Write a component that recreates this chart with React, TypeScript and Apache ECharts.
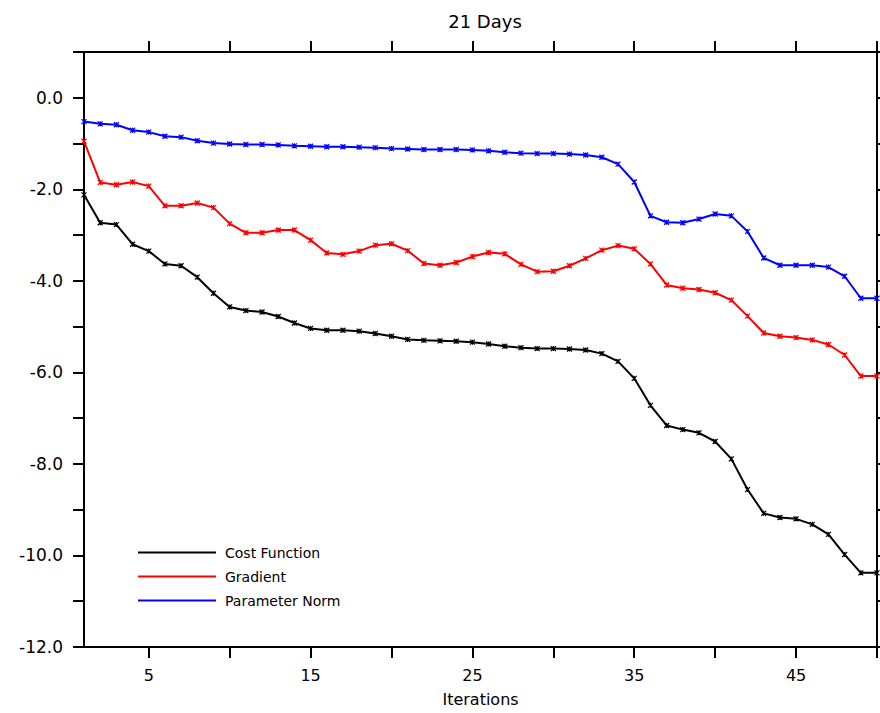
import React, { useEffect, useRef } from "react";
import * as echarts from "echarts";

const iterations = [
  1, 2, 3, 4, 5, 6, 7, 8, 9, 10, 11, 12, 13, 14, 15, 16, 17, 18, 19, 20, 21, 22, 23, 24, 25,
  26, 27, 28, 29, 30, 31, 32, 33, 34, 35, 36, 37, 38, 39, 40, 41, 42, 43, 44, 45, 46, 47, 48, 49, 50,
];

const costFunction = [
  -2.12, -2.73, -2.77, -3.2, -3.35, -3.63, -3.67, -3.92, -4.27, -4.57,
  -4.65, -4.68, -4.78, -4.92, -5.04, -5.08, -5.08, -5.1, -5.15, -5.21,
  -5.28, -5.3, -5.31, -5.32, -5.34, -5.38, -5.43, -5.46, -5.48, -5.48,
  -5.49, -5.51, -5.59, -5.76, -6.13, -6.72, -7.16, -7.25, -7.32, -7.51,
  -7.89, -8.56, -9.08, -9.17, -9.2, -9.32, -9.54, -9.98, -10.38, -10.38,
];

const gradient = [
  -0.95, -1.85, -1.9, -1.84, -1.93, -2.36, -2.36, -2.3, -2.4, -2.75,
  -2.95, -2.95, -2.89, -2.89, -3.11, -3.39, -3.42, -3.35, -3.22, -3.19,
  -3.34, -3.62, -3.66, -3.6, -3.47, -3.38, -3.41, -3.64, -3.8, -3.79,
  -3.67, -3.51, -3.33, -3.23, -3.3, -3.63, -4.09, -4.16, -4.19, -4.26,
  -4.42, -4.77, -5.14, -5.21, -5.24, -5.29, -5.39, -5.62, -6.08, -6.08,
];

const parameterNorm = [
  -0.52, -0.57, -0.59, -0.71, -0.75, -0.84, -0.86, -0.94, -0.99, -1.01,
  -1.02, -1.02, -1.03, -1.05, -1.06, -1.07, -1.07, -1.08, -1.09, -1.11,
  -1.12, -1.13, -1.13, -1.13, -1.14, -1.16, -1.19, -1.21, -1.22, -1.22,
  -1.23, -1.25, -1.3, -1.45, -1.84, -2.58, -2.72, -2.73, -2.65, -2.54,
  -2.58, -2.92, -3.5, -3.66, -3.66, -3.66, -3.7, -3.9, -4.38, -4.38,
];

const xTicks = [5, 10, 15, 20, 25, 30, 35, 40, 45, 50];
const xLabels = [5, 15, 25, 35, 45];

const FONT = "'DejaVu Sans', sans-serif";
const MARK = "path://M0,0L10,10M10,0L0,10M5,0L5,10";

function pairs(ys: number[]) {
  return iterations.map((x, i) => [x, ys[i]]);
}

function mkSeries(name: string, color: string, ys: number[]) {
  return {
    name,
    type: "line",
    data: pairs(ys),
    color,
    symbol: MARK,
    symbolSize: 5,
    showSymbol: true,
    lineStyle: { color, width: 2 },
    itemStyle: { color, borderColor: color, borderWidth: 1.2 },
    emphasis: { disabled: true },
  };
}

export default function App() {
  const ref = useRef<HTMLDivElement>(null);
  useEffect(() => {
    if (!ref.current) return;
    const chart = echarts.init(ref.current, undefined, { renderer: "svg" });
    const axisLine = { show: true, onZero: false, lineStyle: { color: "#000", width: 2 } };
    const tick = { show: true, inside: false, length: 11, lineStyle: { color: "#000", width: 2 } };
    chart.setOption({
      animation: false,
      backgroundColor: "#fff",
      title: {
        text: "21 Days",
        left: 480,
        textAlign: "center",
        top: 7,
        textStyle: { fontFamily: FONT, fontSize: 18, fontWeight: "normal", color: "#000" },
      },
      legend: {
        orient: "vertical",
        left: 138,
        top: 545,
        padding: 0,
        itemWidth: 78,
        itemHeight: 2,
        itemGap: 9,
        icon: "rect",
        itemStyle: { borderWidth: 0 },
        data: ["Cost Function", "Gradient", "Parameter Norm"],
        textStyle: { fontFamily: FONT, fontSize: 14, color: "#000", lineHeight: 15, padding: [0, 0, 0, 4] },
      },
      grid: { left: 84, right: 3, top: 52, bottom: 66, containLabel: false },
      xAxis: [
        {
          type: "value",
          position: "bottom",
          min: 1,
          max: 50,
          splitLine: { show: false },
          axisLine,
          axisTick: { ...tick, customValues: xTicks },
          axisLabel: {
            customValues: xLabels,
            margin: 20,
            fontFamily: FONT,
            fontSize: 16,
            color: "#000",
          },
          name: "Iterations",
          nameLocation: "middle",
          nameGap: 44,
          nameTextStyle: { fontFamily: FONT, fontSize: 16, color: "#000" },
        },
        {
          type: "value",
          position: "top",
          min: 1,
          max: 50,
          splitLine: { show: false },
          axisLine,
          axisTick: { ...tick, customValues: xTicks },
          axisLabel: { show: false },
        },
      ],
      yAxis: [
        {
          type: "value",
          position: "left",
          min: -12,
          max: 1,
          interval: 1,
          splitLine: { show: false },
          axisLine,
          axisTick: tick,
          axisLabel: {
            margin: 21,
            fontFamily: FONT,
            fontSize: 17,
            color: "#000",
            formatter: (v: number) => (Math.round(v) % 2 === 0 ? v.toFixed(1) : ""),
          },
        },
        {
          type: "value",
          position: "right",
          min: -12,
          max: 1,
          interval: 1,
          splitLine: { show: false },
          axisLine,
          axisTick: tick,
          axisLabel: { show: false },
        },
      ],
      series: [
        mkSeries("Cost Function", "#000000", costFunction),
        mkSeries("Gradient", "#ff0000", gradient),
        mkSeries("Parameter Norm", "#0000ff", parameterNorm),
      ],
    });
    return () => chart.dispose();
  }, []);
  return (
    <div
      ref={ref}
      style={{ position: "fixed", left: 0, top: 0, width: 880, height: 713, background: "#fff" }}
    />
  );
}
